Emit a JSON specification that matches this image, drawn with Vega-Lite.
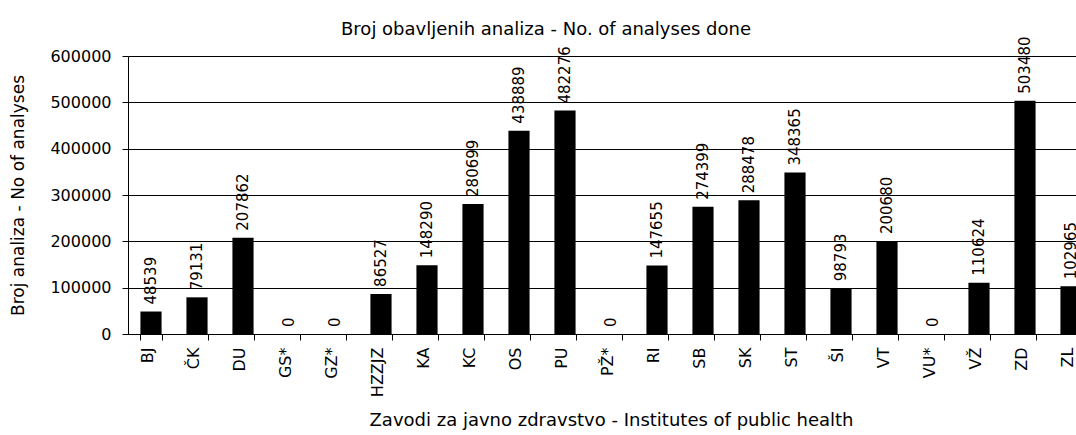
{
  "$schema": "https://vega.github.io/schema/vega-lite/v6.json",
  "autosize": {"type": "none"},
  "width": 948,
  "height": 278,
  "padding": {"left": 128, "top": 56, "right": 0, "bottom": 101},
  "background": "white",
  "config": {
    "font": "DejaVu Sans",
    "view": {"stroke": null},
    "axis": {"labelColor": "#000", "titleColor": "#000", "domainColor": "#000", "tickColor": "#000", "titleFontWeight": "normal"}
  },
  "title": {
    "text": "Broj obavljenih analiza  - No. of analyses done",
    "fontSize": 18,
    "fontWeight": "normal",
    "color": "#000",
    "anchor": "middle",
    "frame": "group",
    "dx": -56,
    "offset": -3
  },
  "data": {
    "values": [
      {"zavod": "BJ", "n": 48539},
      {"zavod": "ČK", "n": 79131},
      {"zavod": "DU", "n": 207862},
      {"zavod": "GS*", "n": 0},
      {"zavod": "GZ*", "n": 0},
      {"zavod": "HZZJZ", "n": 86527},
      {"zavod": "KA", "n": 148290},
      {"zavod": "KC", "n": 280699},
      {"zavod": "OS", "n": 438889},
      {"zavod": "PU", "n": 482276},
      {"zavod": "PŽ*", "n": 0},
      {"zavod": "RI", "n": 147655},
      {"zavod": "SB", "n": 274399},
      {"zavod": "SK", "n": 288478},
      {"zavod": "ST", "n": 348365},
      {"zavod": "ŠI", "n": 98793},
      {"zavod": "VT", "n": 200680},
      {"zavod": "VU*", "n": 0},
      {"zavod": "VŽ", "n": 110624},
      {"zavod": "ZD", "n": 503480},
      {"zavod": "ZL", "n": 102965}
    ]
  },
  "encoding": {
    "x": {
      "field": "zavod",
      "type": "nominal",
      "sort": null,
      "scale": {"range": [0, 966], "paddingInner": 0.54, "paddingOuter": 0.27},
      "axis": {
        "title": "Zavodi za javno zdravstvo - Institutes of public health",
        "titleFontSize": 18,
        "titlePadding": 15,
        "labelAngle": -90,
        "labelFontSize": 16,
        "labelPadding": 7,
        "labelOffset": -4,
        "tickBand": "extent",
        "tickSize": 6,
        "domainWidth": 1,
        "grid": false
      }
    },
    "y": {
      "field": "n",
      "type": "quantitative",
      "scale": {"domain": [0, 600000], "nice": false},
      "axis": {
        "title": "Broj analiza - No of analyses",
        "titleFontSize": 17,
        "titlePadding": 22,
        "values": [0, 100000, 200000, 300000, 400000, 500000, 600000],
        "format": "d",
        "labelFontSize": 16,
        "labelPadding": 11,
        "tickSize": 6,
        "grid": true,
        "gridColor": "#000",
        "gridOpacity": 1,
        "gridWidth": 1
      }
    }
  },
  "layer": [
    {"mark": {"type": "bar", "color": "#000"}},
    {
      "mark": {"type": "text", "angle": 270, "align": "left", "baseline": "middle", "dx": 7, "fontSize": 15, "color": "#000"},
      "encoding": {"text": {"field": "n", "type": "quantitative", "format": "d"}}
    }
  ]
}
